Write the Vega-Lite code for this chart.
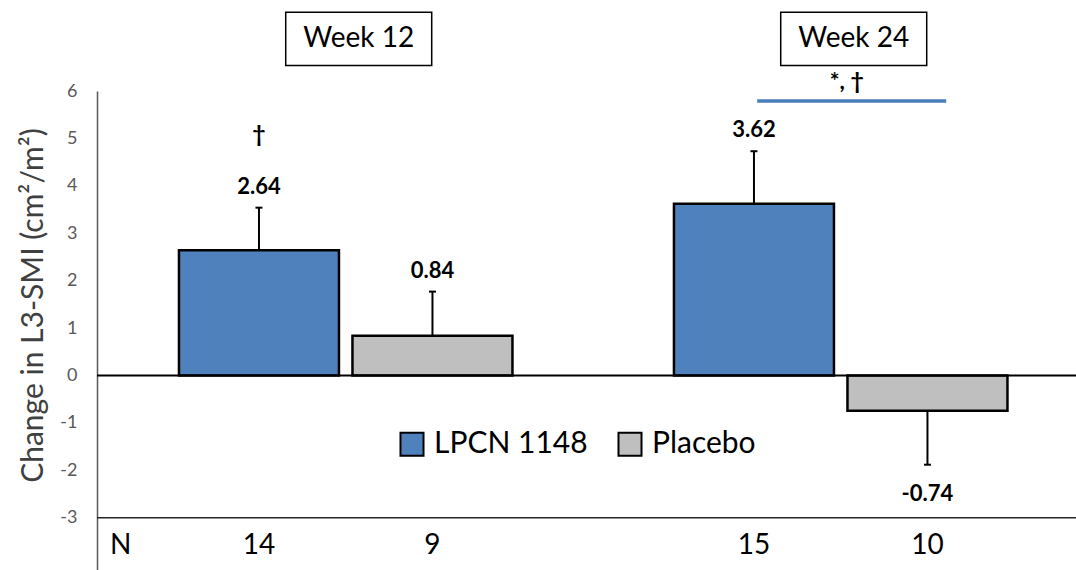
{
  "$schema": "https://vega.github.io/schema/vega-lite/v6.json",
  "autosize": {"type": "none"},
  "padding": {"left": 97, "top": 91, "right": 0, "bottom": 0},
  "width": 979,
  "height": 479,
  "background": "white",
  "config": {
    "view": {"stroke": null},
    "font": "Lato",
    "tick": {"opacity": 1},
    "legend": {
      "orient": "none",
      "legendX": 300,
      "legendY": 338,
      "direction": "horizontal",
      "symbolType": "square",
      "symbolSize": 530,
      "symbolStrokeColor": "black",
      "symbolStrokeWidth": 2,
      "symbolOpacity": 1,
      "labelFont": "Lato",
      "labelFontSize": 30,
      "labelColor": "black",
      "labelOffset": 7,
      "columnPadding": 26,
      "padding": 0,
      "title": null
    }
  },
  "datasets": {
    "main": [
      {"week": "Week 12", "group": "LPCN 1148", "mean": 2.64, "err": 3.54, "n": 14},
      {"week": "Week 12", "group": "Placebo", "mean": 0.84, "err": 1.77, "n": 9},
      {"week": "Week 24", "group": "LPCN 1148", "mean": 3.62, "err": 4.73, "n": 15},
      {"week": "Week 24", "group": "Placebo", "mean": -0.74, "err": -1.88, "n": 10}
    ]
  },
  "layer": [
    {
      "data": {"name": "main"},
      "mark": {"type": "bar", "stroke": "black", "strokeWidth": 2.5},
      "encoding": {
        "x": {
          "field": "week", "type": "nominal",
          "scale": {"type": "band", "domain": ["Week 12", "Week 24"], "paddingInner": 0.299, "paddingOuter": 0.1384, "align": 0.549},
          "axis": null
        },
        "xOffset": {"field": "group", "type": "nominal", "scale": {"domain": ["LPCN 1148", "Placebo"], "paddingInner": 0.0778, "paddingOuter": 0.0389}},
        "y": {
          "field": "mean", "type": "quantitative",
          "scale": {"domain": [-4.1, 6], "nice": false, "zero": false},
          "axis": {
            "values": [-3, -2, -1, 0, 1, 2, 3, 4, 5, 6],
            "labelExpr": "'' + datum.value",
            "ticks": false,
            "grid": false,
            "labelPadding": 20,
            "labelFont": "Lato",
            "labelFontSize": 18,
            "labelColor": "#595959",
            "domainColor": "#595959",
            "domainWidth": 1.5,
            "title": "Change in L3-SMI (cm²/m²)",
            "titleFont": "Lato",
            "titleFontSize": 30,
            "titleFontWeight": "normal",
            "titleColor": "#404040",
            "titleAngle": -90,
            "titleAlign": "center",
            "titleBaseline": "middle",
            "titleX": -64,
            "titleY": 214
          }
        },
        "color": {
          "field": "group", "type": "nominal",
          "scale": {"domain": ["LPCN 1148", "Placebo"], "range": ["#4f81bd", "#bfbfbf"]},
          "legend": {"title": null}
        }
      }
    },
    {
      "data": {"values": [{}]},
      "mark": {"type": "rule", "color": "black", "strokeWidth": 2},
      "encoding": {"y": {"datum": 0}}
    },
    {
      "data": {"values": [{}]},
      "mark": {"type": "rule", "color": "#262626", "strokeWidth": 1.5},
      "encoding": {"y": {"datum": -3}}
    },
    {
      "data": {"name": "main"},
      "mark": {"type": "rule", "color": "black", "strokeWidth": 2},
      "encoding": {
        "x": {"field": "week", "type": "nominal"},
        "xOffset": {"field": "group", "type": "nominal"},
        "y": {"field": "mean", "type": "quantitative"},
        "y2": {"field": "err"}
      }
    },
    {
      "data": {"name": "main"},
      "mark": {"type": "tick", "orient": "horizontal", "color": "black", "size": 7, "thickness": 2},
      "encoding": {
        "x": {"field": "week", "type": "nominal"},
        "xOffset": {"field": "group", "type": "nominal"},
        "y": {"field": "err", "type": "quantitative"}
      }
    },
    {
      "data": {"name": "main"},
      "transform": [{"filter": "datum.mean > 0"}],
      "mark": {"type": "text", "fontWeight": "bold", "fontSize": 22, "color": "black", "baseline": "middle", "dy": -21},
      "encoding": {
        "x": {"field": "week", "type": "nominal"},
        "xOffset": {"field": "group", "type": "nominal"},
        "y": {"field": "err", "type": "quantitative"},
        "text": {"field": "mean", "type": "nominal"}
      }
    },
    {
      "data": {"name": "main"},
      "transform": [{"filter": "datum.mean < 0"}],
      "mark": {"type": "text", "fontWeight": "bold", "fontSize": 22, "color": "black", "baseline": "middle", "dy": 29},
      "encoding": {
        "x": {"field": "week", "type": "nominal"},
        "xOffset": {"field": "group", "type": "nominal"},
        "y": {"field": "err", "type": "quantitative"},
        "text": {"field": "mean", "type": "nominal"}
      }
    },
    {
      "data": {"name": "main"},
      "mark": {"type": "text", "fontSize": 28, "color": "black", "baseline": "middle"},
      "encoding": {
        "x": {"field": "week", "type": "nominal"},
        "xOffset": {"field": "group", "type": "nominal"},
        "y": {"datum": -3.6},
        "text": {"field": "n", "type": "quantitative"}
      }
    },
    {
      "data": {"values": [{"week": "Week 12", "label": "N"}]},
      "mark": {"type": "text", "fontSize": 28, "color": "black", "baseline": "middle", "dx": -225},
      "encoding": {
        "x": {"field": "week", "type": "nominal"},
        "y": {"datum": -3.6},
        "text": {"field": "label"}
      }
    },
    {
      "data": {"values": [{"week": "Week 12"}, {"week": "Week 24"}]},
      "mark": {"type": "bar", "fill": "white", "stroke": "black", "strokeWidth": 1.5, "width": 146, "xOffset": 13},
      "encoding": {
        "x": {"field": "week", "type": "nominal"},
        "y": {"datum": 7.66},
        "y2": {"datum": 6.54}
      }
    },
    {
      "data": {"values": [{"week": "Week 12"}, {"week": "Week 24"}]},
      "mark": {"type": "text", "fontSize": 28, "color": "black", "baseline": "middle", "xOffset": 13},
      "encoding": {
        "x": {"field": "week", "type": "nominal"},
        "y": {"datum": 7.09},
        "text": {"field": "week"}
      }
    },
    {
      "data": {"values": [{"week": "Week 24"}]},
      "mark": {"type": "tick", "orient": "horizontal", "color": "#4a7ebb", "opacity": 1, "size": 189, "thickness": 3.5, "xOffset": 11},
      "encoding": {
        "x": {"field": "week", "type": "nominal"},
        "y": {"datum": 5.79}
      }
    },
    {
      "data": {"values": [{"week": "Week 24", "label": "*, †"}]},
      "mark": {"type": "text", "fontSize": 23, "fontWeight": "bold", "color": "black", "baseline": "middle", "xOffset": 6},
      "encoding": {
        "x": {"field": "week", "type": "nominal"},
        "y": {"datum": 6.18},
        "text": {"field": "label"}
      }
    },
    {
      "data": {"values": [{"week": "Week 12", "group": "LPCN 1148", "label": "†"}]},
      "mark": {"type": "text", "fontSize": 23, "fontWeight": "bold", "color": "black", "baseline": "middle"},
      "encoding": {
        "x": {"field": "week", "type": "nominal"},
        "xOffset": {"field": "group", "type": "nominal"},
        "y": {"datum": 5.08},
        "text": {"field": "label"}
      }
    }
  ]
}
